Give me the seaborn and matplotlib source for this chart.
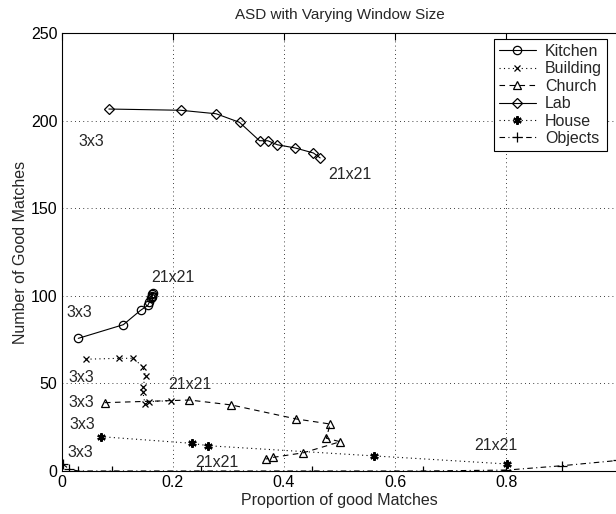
import numpy as np
import pandas as pd
import matplotlib
matplotlib.use("Agg")
import matplotlib.pyplot as plt
import seaborn as sns

# values (3x3 ... 21x21 window, 10 sizes each)
kitchen_x = [0.030, 0.111, 0.142, 0.155, 0.158, 0.160, 0.162, 0.163, 0.164, 0.163]
kitchen_y = [75.7, 83.5, 91.7, 94.5, 96.5, 98.5, 100.0, 101.0, 101.5, 99.5]

building_x = [0.044, 0.103, 0.129, 0.146, 0.151, 0.146, 0.146, 0.150, 0.157, 0.196]
building_y = [63.8, 64.3, 64.3, 59.5, 54.2, 47.8, 45.3, 38.2, 39.6, 40.1]

church_x = [0.078, 0.230, 0.305, 0.422, 0.483, 0.476, 0.501, 0.435, 0.381, 0.367]
church_y = [39.0, 40.5, 37.7, 29.7, 26.8, 18.7, 16.7, 10.4, 7.8, 6.8]

lab_x = [0.085, 0.214, 0.278, 0.320, 0.356, 0.371, 0.388, 0.420, 0.453, 0.465]
lab_y = [206.6, 205.9, 203.9, 199.0, 188.5, 188.5, 186.2, 184.4, 181.5, 178.7]

house_x = [0.070, 0.234, 0.264, 0.562, 0.801]
house_y = [19.6, 15.8, 14.4, 8.6, 4.0]

objects_x = [0.002, 0.014, 0.030, 0.090, 0.250, 0.450, 0.650, 0.800, 0.900, 1.000]
objects_y = [4.0, 1.0, 0.0, 0.0, 0.0, 0.0, 0.0, 0.5, 3.0, 6.0]

series = ["Kitchen", "Building", "Church", "Lab", "House", "Objects"]
xs = [kitchen_x, building_x, church_x, lab_x, house_x, objects_x]
ys = [kitchen_y, building_y, church_y, lab_y, house_y, objects_y]

# window size labels: (text, x, y)
size_labels = [
    ("3x3", 0.0295, 188.1), ("21x21", 0.479, 169.0),
    ("3x3", 0.009, 90.2), ("21x21", 0.162, 110.2),
    ("3x3", 0.0115, 53.1), ("21x21", 0.191, 49.1),
    ("3x3", 0.0115, 39.0), ("21x21", 0.240, 4.6),
    ("3x3", 0.015, 26.3), ("21x21", 0.743, 14.3),
    ("3x3", 0.0097, 10.3),
]

markers = {"Kitchen": "o", "Building": "x", "Church": "^", "Lab": "D",
           "House": (6, 2, 0), "Objects": "+"}
styles = {"Kitchen": "-", "Building": (0, (1, 3)), "Church": (0, (5, 4)),
          "Lab": "-", "House": (0, (1, 3)), "Objects": (0, (5, 3, 1, 3))}
msizes = {"Kitchen": 6, "Building": 5, "Church": 6, "Lab": 5,
          "House": 6, "Objects": 7}
medges = {"Kitchen": 0.9, "Building": 0.9, "Church": 0.9, "Lab": 0.9,
          "House": 1.6, "Objects": 0.9}

sns.set_style("white")
plt.rcParams["font.family"] = ["Liberation Sans", "DejaVu Sans"]
plt.rcParams["font.size"] = 11

fig = plt.figure(figsize=(6.16, 5.14), dpi=100)
ax = fig.add_axes([0.1, 0.0837, 0.9026, 0.8521])

handles = []
for name, sx, sy in zip(series, xs, ys):
    d = pd.DataFrame({"prop": sx, "good": sy})
    sns.lineplot(data=d, x="prop", y="good", sort=False, estimator=None,
                 color="black", linewidth=0.8, linestyle=styles[name],
                 marker=markers[name], markersize=msizes[name],
                 markerfacecolor="none", markeredgecolor="black",
                 markeredgewidth=medges[name], ax=ax)
    handles.append(ax.lines[-1])

for txt, tx, ty in size_labels:
    ax.text(tx, ty, txt, ha="left", va="center", fontsize=11.5)

ax.set_xlim(0, 1)
ax.set_ylim(0, 250)
ax.set_xticks([0, 0.2, 0.4, 0.6, 0.8])
ax.set_xticklabels(["0", "0.2", "0.4", "0.6", "0.8"])
ax.set_yticks([0, 50, 100, 150, 200, 250])
ax.grid(True, color="black", linestyle=(0, (1, 4)), linewidth=0.6)
ax.tick_params(direction="in", length=5, top=True, right=False,
               labelsize=11.5, colors="black", pad=3)
for s in ax.spines.values():
    s.set_color("black")
    s.set_linewidth(0.8)
ax.spines["right"].set_visible(False)

ax.set_title("ASD with Varying Window Size", fontsize=11, pad=10)
ax.set_xlabel("Proportion of good Matches", fontsize=11.5, labelpad=2)
ax.set_ylabel("Number of Good Matches", fontsize=11.5, labelpad=2)

leg = ax.legend(handles, series, loc="upper right",
                bbox_to_anchor=(0.981, 0.986), borderaxespad=0,
                fancybox=False, framealpha=1, edgecolor="black",
                handlelength=2.3, handletextpad=0.6, labelspacing=0.15,
                borderpad=0.3, fontsize=11.5)
leg.get_frame().set_linewidth(0.8)

fig.savefig("out.png", dpi=100)
